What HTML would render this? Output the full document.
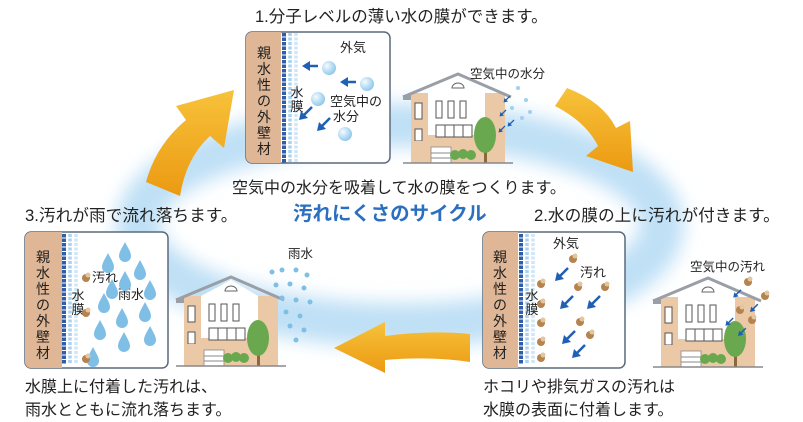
<!DOCTYPE html>
<html><head><meta charset="utf-8"><style>
html,body{margin:0;padding:0;background:#fff}
svg{display:block}
text{font-family:"Liberation Sans","Noto Sans CJK JP",sans-serif;fill:#222}
</style></head><body>
<svg width="803" height="422" viewBox="0 0 803 422" xmlns="http://www.w3.org/2000/svg">
<defs>
<filter id="bl" x="-20%" y="-40%" width="140%" height="180%"><feGaussianBlur stdDeviation="9"/></filter>
<linearGradient id="og" x1="0" y1="0" x2="0" y2="1"><stop offset="0" stop-color="#f7c23a"/><stop offset="1" stop-color="#eb9a12"/></linearGradient>
<radialGradient id="sp" cx="0.35" cy="0.35" r="0.7"><stop offset="0" stop-color="#f4fbff"/><stop offset="1" stop-color="#8cc6ea"/></radialGradient>
<g id="house">
 <rect x="8" y="20" width="94" height="70" fill="#ecc9a6"/>
 <polygon points="25,20 55,4 82,20 82,62 25,62" fill="#fff"/>
 <polyline points="0,24 55,1 108,24" fill="none" stroke="#9a9ea6" stroke-width="3"/>
 <rect x="0" y="22" width="8" height="5" fill="#9a9ea6"/>
 <path d="M49,15 a6,5 0 0 1 12,0 z" fill="#fff" stroke="#666"/>
 <rect x="12" y="30" width="7" height="16" fill="#fff" stroke="#555"/>
 <rect x="33" y="28" width="6" height="17" fill="#fff" stroke="#555"/>
 <rect x="45" y="28" width="6" height="17" fill="#fff" stroke="#555"/>
 <rect x="57" y="28" width="6" height="17" fill="#fff" stroke="#555"/>
 <rect x="33" y="52" width="36" height="12" fill="#fff" stroke="#555"/>
 <line x1="42" y1="52" x2="42" y2="64" stroke="#555"/><line x1="51" y1="52" x2="51" y2="64" stroke="#555"/><line x1="60" y1="52" x2="60" y2="64" stroke="#555"/>
 <rect x="12" y="56" width="7" height="12" fill="#fff" stroke="#555"/>
 <rect x="8" y="68" width="94" height="22" fill="#ecc9a6"/>
 <rect x="28" y="74" width="20" height="16" fill="#fff" stroke="#888" stroke-width=".8"/>
 <line x1="28" y1="80" x2="48" y2="80" stroke="#888"/><line x1="28" y1="85" x2="48" y2="85" stroke="#888"/>
 <circle cx="52" cy="82" r="5" fill="#6aa84f"/><circle cx="60" cy="81" r="5" fill="#6aa84f"/><circle cx="68" cy="82" r="5" fill="#6aa84f"/>
 <rect x="81" y="65" width="3" height="25" fill="#8a6a3a"/>
 <ellipse cx="82" cy="62" rx="11" ry="18" fill="#6aa84f"/>
 <line x1="0" y1="90" x2="110" y2="90" stroke="#888" stroke-width="1.5"/>
</g>
<g id="dots">
 <line x1="0" y1="0" x2="0" y2="130" stroke="#2f5fa8" stroke-width="4" stroke-dasharray="3.5 1"/>
 <line x1="6" y1="0" x2="6" y2="130" stroke="#a9d2ef" stroke-width="3.5" stroke-dasharray="3 1.5"/>
 <line x1="12" y1="0" x2="12" y2="130" stroke="#cfe6f6" stroke-width="3.5" stroke-dasharray="3 1.5"/>
</g>
<path id="drop" d="M0,-10 C3,-4 6,0 6,4 A6,6 0 0 1 -6,4 C-6,0 -3,-4 0,-10Z" fill="#7fbfe6"/>
<g id="dirt"><circle r="4" fill="#b5834d"/><circle cx="2" cy="-3" r="2.5" fill="#e3c6a0"/></g>
<g id="barr"><line x1="0" y1="0" x2="-9" y2="9" stroke="#1f5fb4" stroke-width="2.5"/><polygon points="-13,13 -11,4 -4,11" fill="#1f5fb4"/></g>
</defs>

<ellipse cx="400" cy="225" rx="262" ry="100" fill="none" stroke="#bfe0f6" stroke-width="44" filter="url(#bl)"/>

<!-- arrows -->
<path d="M146,182 Q156,145 186,120 L176,106 L234,90 L224,148 L210,136 Q186,158 180,196 Z" fill="url(#og)"/>
<path d="M555,106 L567,88 Q603,102 616,128 L630,121 L633,172 L586,156 L598,146 Q586,122 555,106Z" fill="url(#og)"/>
<path d="M470,334 Q430,330 385,336 L385,322 L334,348 L385,373 L385,360 Q430,356 470,362 Z" fill="url(#og)"/>

<!-- texts -->
<text x="255" y="22" font-size="16.5">1.分子レベルの薄い水の膜ができます。</text>
<text x="232" y="193" font-size="16">空気中の水分を吸着して水の膜をつくります。</text>
<text x="293" y="220" font-size="19.5" font-weight="bold" style="fill:#2a6fc0">汚れにくさのサイクル</text>
<text x="25" y="221" font-size="16.7">3.汚れが雨で流れ落ちます。</text>
<text x="534" y="221" font-size="16.7">2.水の膜の上に汚れが付きます。</text>
<text x="25" y="392" font-size="16">水膜上に付着した汚れは、</text>
<text x="25" y="415" font-size="16">雨水とともに流れ落ちます。</text>
<text x="483" y="392" font-size="16">ホコリや排気ガスの汚れは</text>
<text x="483" y="415" font-size="16">水膜の表面に付着します。</text>

<!-- top panel -->
<rect x="246" y="32" width="144" height="131" rx="6" fill="#fff" stroke="#5b6a7e" stroke-width="1.5"/>
<path d="M252,32 H281 V163 H252 a6,6 0 0 1 -6,-6 V38 a6,6 0 0 1 6,-6Z" fill="#dfb796"/>
<use href="#dots" x="284" y="33"/>
<text font-size="14" text-anchor="middle"><tspan x="264" y="58">親</tspan><tspan x="264" y="74">水</tspan><tspan x="264" y="90">性</tspan><tspan x="264" y="106">の</tspan><tspan x="264" y="122">外</tspan><tspan x="264" y="138">壁</tspan><tspan x="264" y="154">材</tspan></text>
<text font-size="13" text-anchor="middle"><tspan x="297" y="97">水</tspan><tspan x="297" y="111">膜</tspan></text>
<text x="340" y="52" font-size="13">外気</text>
<text x="330" y="106" font-size="13">空気中の</text>
<text x="333" y="121" font-size="13">水分</text>
<circle cx="329" cy="68" r="7" fill="url(#sp)"/><circle cx="367" cy="84" r="7" fill="url(#sp)"/>
<circle cx="318" cy="99" r="7" fill="url(#sp)"/><circle cx="345" cy="134" r="7" fill="url(#sp)"/>
<g stroke="#1f5fb4" stroke-width="2.5"><line x1="308" y1="66" x2="318" y2="66"/><line x1="346" y1="82" x2="356" y2="82"/></g>
<polygon points="302,66 310,61 310,71" fill="#1f5fb4"/><polygon points="340,82 348,77 348,87" fill="#1f5fb4"/>
<use href="#barr" x="312" y="107"/><use href="#barr" x="330" y="118"/>

<use href="#house" x="403" y="73"/>
<text x="470" y="78" font-size="12.5">空気中の水分</text>
<g fill="#9fd0ee"><circle cx="518" cy="88" r="2"/><circle cx="526" cy="100" r="2"/><circle cx="512" cy="108" r="2"/><circle cx="522" cy="118" r="2"/><circle cx="530" cy="112" r="2"/></g>
<g transform="scale(0.5)"><use href="#barr" x="1020" y="192"/><use href="#barr" x="1012" y="220"/><use href="#barr" x="1028" y="240"/><use href="#barr" x="1010" y="252"/></g>

<!-- left panel -->
<rect x="25" y="232" width="143" height="136" rx="6" fill="#fff" stroke="#5b6a7e" stroke-width="1.5"/>
<path d="M31,232 H62 V368 H31 a6,6 0 0 1 -6,-6 V238 a6,6 0 0 1 6,-6Z" fill="#dfb796"/>
<use href="#dots" x="64" y="234"/>
<text font-size="14" text-anchor="middle"><tspan x="43" y="262">親</tspan><tspan x="43" y="278">水</tspan><tspan x="43" y="294">性</tspan><tspan x="43" y="310">の</tspan><tspan x="43" y="326">外</tspan><tspan x="43" y="342">壁</tspan><tspan x="43" y="358">材</tspan></text>
<text font-size="13" text-anchor="middle"><tspan x="78" y="300">水</tspan><tspan x="78" y="314">膜</tspan></text>
<text x="92" y="282" font-size="13">汚れ</text>
<text x="118" y="299" font-size="13">雨水</text>
<g><use href="#drop" x="125" y="252"/><use href="#drop" x="108" y="263"/><use href="#drop" x="140" y="270"/><use href="#drop" x="125" y="281"/><use href="#drop" x="150" y="290"/><use href="#drop" x="104" y="303"/><use href="#drop" x="122" y="318"/><use href="#drop" x="145" y="312"/><use href="#drop" x="100" y="330"/><use href="#drop" x="124" y="342"/><use href="#drop" x="150" y="336"/><use href="#drop" x="93" y="357"/><use href="#drop" x="112" y="289"/></g>
<use href="#dirt" x="86" y="278"/><use href="#dirt" x="86" y="313"/><use href="#dirt" x="86" y="359"/>

<use href="#house" x="176" y="276"/>
<text x="288" y="258" font-size="12.5">雨水</text>
<g fill="#7fbfe6"><circle cx="272" cy="272" r="2.5"/><circle cx="282" cy="270" r="2.5"/><circle cx="296" cy="270" r="2.5"/><circle cx="307" cy="275" r="2.5"/><circle cx="276" cy="285" r="2.5"/><circle cx="290" cy="284" r="2.5"/><circle cx="304" cy="288" r="2.5"/><circle cx="282" cy="298" r="2.5"/><circle cx="296" cy="300" r="2.5"/><circle cx="310" cy="302" r="2.5"/><circle cx="286" cy="312" r="2.5"/><circle cx="300" cy="316" r="2.5"/><circle cx="290" cy="326" r="2.5"/><circle cx="304" cy="330" r="2.5"/><circle cx="296" cy="340" r="2.5"/></g>

<!-- right panel -->
<rect x="483" y="232" width="142" height="136" rx="6" fill="#fff" stroke="#5b6a7e" stroke-width="1.5"/>
<path d="M489,232 H518 V368 H489 a6,6 0 0 1 -6,-6 V238 a6,6 0 0 1 6,-6Z" fill="#dfb796"/>
<use href="#dots" x="521" y="234"/>
<text font-size="14" text-anchor="middle"><tspan x="500" y="262">親</tspan><tspan x="500" y="278">水</tspan><tspan x="500" y="294">性</tspan><tspan x="500" y="310">の</tspan><tspan x="500" y="326">外</tspan><tspan x="500" y="342">壁</tspan><tspan x="500" y="358">材</tspan></text>
<text font-size="13" text-anchor="middle"><tspan x="532" y="300">水</tspan><tspan x="532" y="314">膜</tspan></text>
<text x="553" y="248" font-size="13">外気</text>
<text x="580" y="277" font-size="13">汚れ</text>
<use href="#dirt" x="541" y="284"/><use href="#dirt" x="541" y="304"/><use href="#dirt" x="541" y="323"/><use href="#dirt" x="541" y="342"/><use href="#dirt" x="541" y="358"/>
<use href="#dirt" x="573" y="259"/><use href="#dirt" x="578" y="287"/><use href="#dirt" x="605" y="287"/><use href="#dirt" x="580" y="322"/><use href="#dirt" x="590" y="335"/>
<use href="#barr" x="568" y="268"/><use href="#barr" x="573" y="296"/><use href="#barr" x="600" y="296"/><use href="#barr" x="575" y="331"/><use href="#barr" x="585" y="345"/>

<use href="#house" x="653" y="277"/>
<text x="690" y="271" font-size="12.5">空気中の汚れ</text>
<use href="#dirt" x="748" y="282"/><use href="#dirt" x="765" y="296"/><use href="#dirt" x="740" y="310"/><use href="#dirt" x="752" y="320"/>
<g transform="scale(0.6)"><use href="#barr" x="1235" y="483"/><use href="#barr" x="1263" y="507"/><use href="#barr" x="1222" y="530"/><use href="#barr" x="1243" y="547"/></g>
</svg>
</body></html>
